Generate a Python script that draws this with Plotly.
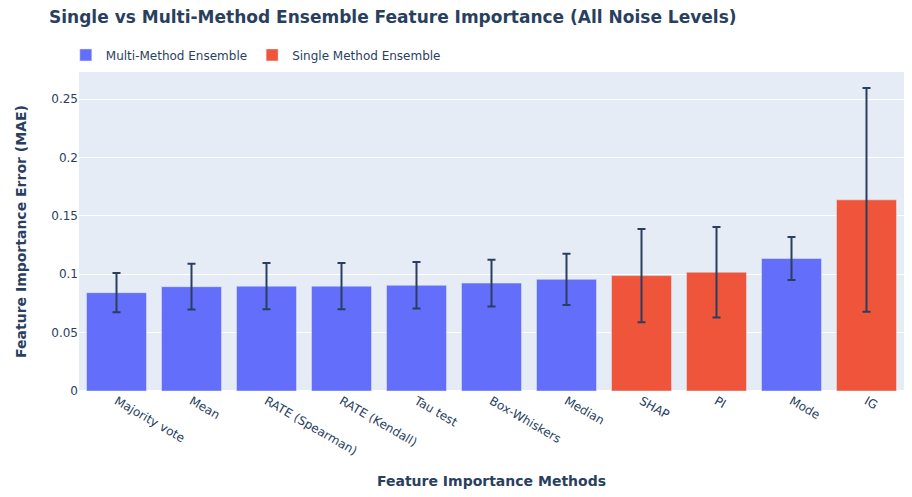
import plotly.graph_objects as go

# Methods sorted by mean MAE (ascending)
methods = ['Majority vote', 'Mean', 'RATE (Spearman)', 'RATE (Kendall)', 'Tau test',
           'Box-Whiskers', 'Median', 'SHAP', 'PI', 'Mode', 'IG']
method_type = ['Multi', 'Multi', 'Multi', 'Multi', 'Multi',
               'Multi', 'Multi', 'Single', 'Single', 'Multi', 'Single']
mae_mean = [0.0842, 0.0893, 0.0898, 0.0898, 0.0905,
            0.0924, 0.0956, 0.0988, 0.1017, 0.1135, 0.1637]
mae_std = [0.0168, 0.0196, 0.0198, 0.0198, 0.0199,
           0.0200, 0.0220, 0.0400, 0.0387, 0.0184, 0.0958]

groups = {'Multi': 'Multi-Method Ensemble', 'Single': 'Single Method Ensemble'}
colors = {'Multi': '#636EFA', 'Single': '#EF553B'}

fig = go.Figure()
for key in ['Multi', 'Single']:
    idx = [i for i, t in enumerate(method_type) if t == key]
    fig.add_trace(go.Bar(
        x=[methods[i] for i in idx],
        y=[mae_mean[i] for i in idx],
        error_y=dict(type='data', array=[mae_std[i] for i in idx], visible=True),
        name=groups[key],
        marker_color=colors[key],
    ))

# page body has an 8px margin, so the figure is sized to end at the window edge
fig.update_layout(
    title=dict(text='<b>Single vs Multi-Method Ensemble Feature Importance (All Noise Levels)</b>',
               font=dict(size=17), x=0.0454, xanchor='left', y=0.9816, yanchor='middle'),
    font=dict(family='DejaVu Sans'),
    barmode='relative',
    width=904, height=489,
    margin=dict(l=71, r=8, t=64, b=106),
    legend=dict(orientation='h', x=-0.016, y=1.008, yanchor='bottom', xanchor='left'),
    xaxis=dict(title=dict(text='<b>Feature Importance Methods</b>', font=dict(size=14), standoff=19),
               categoryorder='array', categoryarray=methods, tickangle=30, automargin=False),
    yaxis=dict(title=dict(text='<b>Feature Importance Error (MAE)</b>', font=dict(size=14), standoff=21),
               automargin=False),
)

fig.write_html("out.html")
